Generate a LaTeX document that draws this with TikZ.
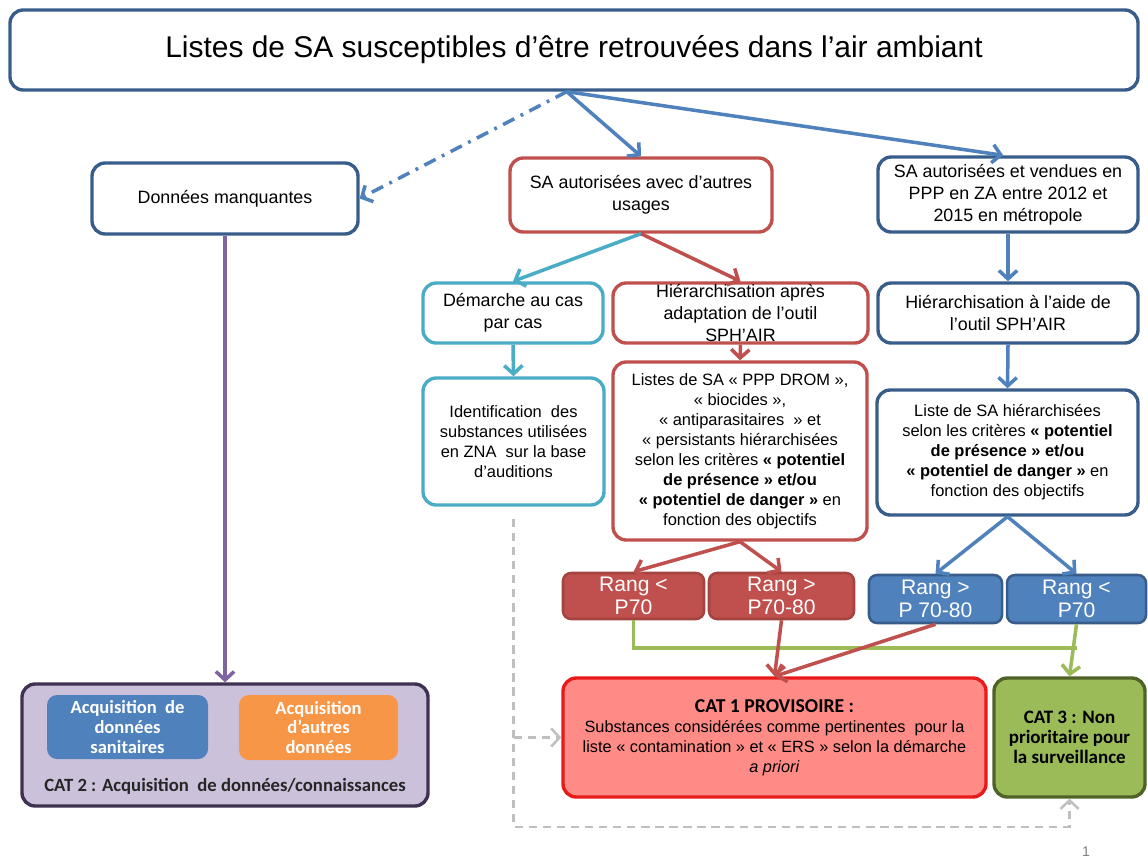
\documentclass[tikz,border=0pt]{standalone}
\usepackage{fontspec}
\setmainfont{Liberation Sans}
\newfontfamily\calibri{Carlito}
\usetikzlibrary{arrows.meta}
\definecolor{bleufonce}{HTML}{385D8A}
\definecolor{bleuclair}{HTML}{4F81BD}
\definecolor{rougeb}{HTML}{C0504D}
\definecolor{turq}{HTML}{4BACC6}
\definecolor{violetf}{HTML}{8064A2}
\definecolor{vertb}{HTML}{9BBB59}
\definecolor{vertfonce}{HTML}{4F6228}
\definecolor{rosecat}{HTML}{FF8B87}
\definecolor{rougecat}{HTML}{E81A1A}
\definecolor{lavande}{HTML}{CCC1DA}
\definecolor{prune}{HTML}{3F3151}
\definecolor{orangeacq}{HTML}{F79646}
\definecolor{grisf}{HTML}{BFBFBF}

\begin{document}
\begin{tikzpicture}[x=0.025cm,y=-0.025cm,
   boite/.style={draw, rounded corners=0.33cm, line width=2.4pt, fill=white, align=center, inner sep=1pt},
   taille/.style 2 args={minimum width=#1*0.025cm, minimum height=#2*0.025cm},
   moyen/.style={font=\fontsize{12.7}{15.6}\selectfont},
   petit/.style={font=\fontsize{11.7}{14.2}\selectfont},
   rang/.style={rounded corners=0.2cm, align=center, text=white, line width=1.8pt, font=\fontsize{15}{16.5}\selectfont, inner sep=0pt},
   acq/.style={rounded corners=0.25cm, align=center, text=white, font=\calibri\bfseries\fontsize{13.2}{14.2}\selectfont, inner sep=0pt},
   fleche/.style={line width=2.5pt, -{Straight Barb[length=6pt,width=13pt]}}]
   \useasboundingbox (0,0) rectangle (1148,861);
   \node[boite, draw=bleufonce, taille={1128}{80}, font=\fontsize{21.3}{25}\selectfont] (listes) at (574,50) {Listes de SA susceptibles d’être retrouvées dans l’air ambiant};
   \node[boite, draw=bleufonce, taille={266}{71}, moyen] (manq) at (225,198.5) {Données manquantes};
   \node[boite, draw=rougeb, taille={262}{74}, moyen] (autres) at (641,195) {SA autorisées avec d’autres\\usages};
   \node[boite, draw=bleufonce, taille={260}{75}, moyen] (vendues) at (1008,194.5) {SA autorisées et vendues en\\PPP en ZA entre 2012 et\\2015 en métropole};
   \node[boite, draw=turq, taille={180}{60}, moyen] (demarche) at (513,313) {Démarche au cas\\par cas};
   \node[boite, draw=rougeb, taille={255}{60}, moyen] (hierA) at (740.5,313) {Hiérarchisation après\\adaptation de l’outil\\SPH’AIR};
   \node[boite, draw=bleufonce, taille={260}{60}, moyen] (hierB) at (1008,313) {Hiérarchisation à l’aide de\\l’outil SPH’AIR};
   \node[boite, draw=turq, taille={181}{127}, petit] (ident) at (513.5,441.5) {Identification \ des\\substances utilisées\\en ZNA \ sur la base\\d’auditions};
   \node[boite, draw=rougeb, taille={254}{178}, petit] (listesA) at (740,451) {Listes de SA « PPP DROM »,\\« biocides »,\\« antiparasitaires \ » et\\« persistants hiérarchisées\\selon les critères \textbf{« potentiel}\\\textbf{de présence » et/ou}\\\textbf{« potentiel de danger »} en\\fonction des objectifs};
   \node[boite, draw=bleufonce, taille={261}{125}, petit] (listesB) at (1007.5,452.5) {Liste de SA hiérarchisées\\selon les critères \textbf{« potentiel}\\\textbf{de présence » et/ou}\\\textbf{« potentiel de danger »} en\\fonction des objectifs};
   \node[rang, fill=rougeb, draw=rougeb!85!black, taille={141}{46}] (rang1) at (633.5,596) {Rang <\\P70};
   \node[rang, fill=rougeb, draw=rougeb!85!black, taille={145}{46}] (rang2) at (781.5,596) {Rang >\\P70-80};
   \node[rang, fill=bleuclair, draw=bleufonce, taille={133}{48}] (rang3) at (935.5,599) {Rang >\\P 70-80};
   \node[rang, fill=bleuclair, draw=bleufonce, taille={139}{48}] (rang4) at (1076.5,599) {Rang <\\P70};
   \node[boite, draw=rougecat, fill=rosecat, taille={423}{119}, font=\fontsize{11.6}{14.2}\selectfont] (cat1) at (774.5,737.5) {{\calibri\bfseries\fontsize{14}{14.2}\selectfont CAT 1 PROVISOIRE :}\\Substances considérées comme pertinentes \ pour la\\liste « contamination » et « ERS » selon la démarche\\\textit{a priori}};
   \node[boite, draw=vertfonce, fill=vertb, taille={151}{119}, font=\calibri\bfseries\fontsize{13.5}{14.2}\selectfont] (cat3) at (1069.5,737.5) {CAT 3 : Non\\prioritaire pour\\la surveillance};
   \node[boite, draw=prune, fill=lavande, taille={406}{122}] (cat2) at (225,745) {};
   \node[acq, fill=bleuclair, taille={161}{64}] (acq1) at (127.5,727) {Acquisition \ de\\données\\sanitaires};
   \node[acq, fill=orangeacq, taille={159}{65}] (acq2) at (318.5,727.5) {Acquisition\\d’autres\\données};
   \node[font=\calibri\bfseries\fontsize{13.3}{14}\selectfont, text=black!85] (cat2txt) at (225,786) {CAT 2 : Acquisition \ de données/connaissances};
   \node[text=gray, font=\fontsize{10}{12}\selectfont] (num) at (1086,852) {1};
   \coordinate (depart) at ([xshift=-0.18cm]listes.south);
   \draw[fleche, bleuclair, dash pattern=on 9pt off 5pt on 2pt off 5pt] (depart) -- (manq.east);
   \draw[fleche, bleuclair] (depart) -- (autres.north);
   \draw[fleche, bleuclair] (depart) -- ([xshift=-0.12cm]vendues.north);
   \draw[fleche, turq] (autres.south) -- (demarche.north);
   \draw[fleche, rougeb] (autres.south) -- (hierA.north);
   \draw[fleche, bleuclair] (vendues.south) -- (hierB.north);
   \draw[fleche, turq] (demarche.south) -- (ident.north);
   \draw[fleche, rougeb] (hierA.south) -- (listesA.north);
   \draw[fleche, bleuclair] (hierB.south) -- (listesB.north);
   \draw[fleche, rougeb] (listesA.south) -- (rang1.north);
   \draw[fleche, rougeb] (listesA.south) -- (rang2.north);
   \draw[fleche, bleuclair] (listesB.south) -- (rang3.north);
   \draw[fleche, bleuclair] (listesB.south) -- (rang4.north);
   \draw[vertb, line width=2.5pt] (rang1.south) |- (rang4.south |- 0,648);
   \draw[fleche, vertb] (rang4.south) -- (cat3.north);
   \draw[fleche, rougeb] (rang2.south) -- (cat1.north);
   \draw[fleche, rougeb] (rang3.south) -- (cat1.north);
   \draw[fleche, violetf] (manq.south) -- (cat2.north);
   \coordinate (haut) at ([yshift=-0.3cm]ident.south);
   \coordinate (coin) at (ident.south |- 0,827);
   \draw[fleche, grisf, line width=1.8pt, dash pattern=on 6pt off 4pt] (haut) -- (coin) -| (cat3.south);
   \draw[fleche, grisf, line width=1.8pt, dash pattern=on 6pt off 4pt] (ident.south |- cat1.west) -- (cat1.west);
\end{tikzpicture}
\end{document}
